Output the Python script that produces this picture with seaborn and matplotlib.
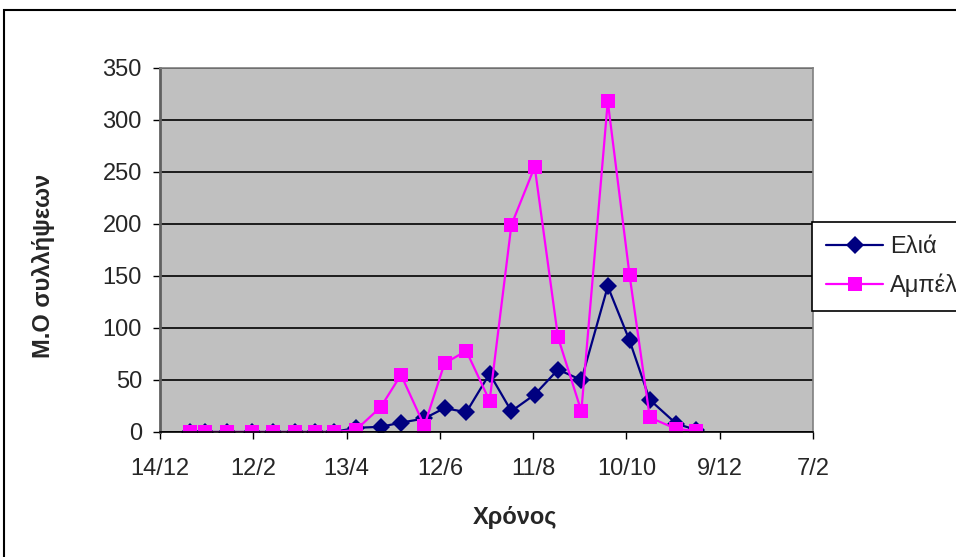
import matplotlib
matplotlib.use("Agg")
import matplotlib.pyplot as plt
import matplotlib.dates as mdates
from matplotlib.patches import Rectangle
from matplotlib.ticker import FuncFormatter, MultipleLocator
import seaborn as sns
import pandas as pd
import numpy as np

# ---- data ----
dates = ["2005-01-02", "2005-01-12", "2005-01-26", "2005-02-11", "2005-02-25",
         "2005-03-11", "2005-03-24", "2005-04-05", "2005-04-19", "2005-05-05",
         "2005-05-18", "2005-06-02", "2005-06-15", "2005-06-29", "2005-07-14",
         "2005-07-28", "2005-08-12", "2005-08-27", "2005-09-11", "2005-09-28",
         "2005-10-12", "2005-10-25", "2005-11-11", "2005-11-24"]
elia = [0, 0, 0, 0, 0, 0, 0, 0, 4, 5, 9, 13, 23, 19, 56, 20, 36, 60, 50, 140, 88, 31, 8, 2]
ampeli = [0, 0, 0, 0, 0, 0, 0, 0, 2, 24, 55, 6, 66, 78, 30, 199, 255, 91, 20, 318, 151, 14, 3, 1]
series_names = ["Ελιά", "Αμπέλι"]
x_start, x_end = "2004-12-14", "2006-02-07"

df = pd.DataFrame({
    "date": pd.to_datetime(dates * 2),
    "value": elia + ampeli,
    "series": [series_names[0]] * len(dates) + [series_names[1]] * len(dates),
})

sns.set_style("white")
plt.rcParams["font.family"] = ["Liberation Sans", "DejaVu Sans"]

fig = plt.figure(figsize=(9.56, 5.57), dpi=100)
ax = fig.add_axes([160 / 956, 1 - 432 / 557, (813 - 160) / 956, (432 - 68) / 557])
ax.set_facecolor("#C0C0C0")

sns.lineplot(data=df, x="date", y="value", hue="series", style="series",
             hue_order=series_names, style_order=series_names,
             palette={"Ελιά": "#000080", "Αμπέλι": "#FF00FF"},
             markers={"Ελιά": "D", "Αμπέλι": "s"}, dashes=False,
             markeredgewidth=0, linewidth=1.6, ax=ax, legend=True)
for line in ax.lines:
    if line.get_marker() == "s":
        line.set_markersize(10)
    else:
        line.set_markersize(9)

ax.set_ylim(0, 350)
ax.yaxis.set_major_locator(MultipleLocator(50))
ax.set_xlim(pd.Timestamp(x_start), pd.Timestamp(x_end))
start_num = mdates.date2num(pd.Timestamp(x_start))
ax.set_xticks([start_num + 60 * i for i in range(8)])
ax.xaxis.set_major_formatter(FuncFormatter(
    lambda v, p: f"{mdates.num2date(v).day}/{mdates.num2date(v).month}"))

ax.grid(axis="y", color="black", linewidth=1.2)
ax.grid(axis="x", visible=False)
ax.set_axisbelow(True)

for s in ["top", "right"]:
    ax.spines[s].set_color("#808080")
    ax.spines[s].set_linewidth(1.2)
ax.spines["left"].set_color("#606060")
ax.spines["left"].set_linewidth(2)
ax.spines["bottom"].set_color("black")
ax.spines["bottom"].set_linewidth(1.2)

ax.tick_params(axis="both", which="major", direction="out", length=5, width=1,
               color="black", labelsize=17, left=True, bottom=True)
ax.tick_params(axis="y", pad=8)
ax.tick_params(axis="x", pad=14)

ax.set_ylabel("Μ.Ο συλλήψεων", fontsize=17, fontweight="bold")
ax.set_xlabel("Χρόνος", fontsize=17, fontweight="bold")
ax.yaxis.set_label_coords((55 - 160) / 653, (432 - 266) / 364)
ax.xaxis.set_label_coords((515 - 160) / 653, -(506 - 432) / 364)

handles, labels = ax.get_legend_handles_labels()
ax.legend(handles, labels, loc="upper left",
          bbox_to_anchor=(812 / 956, 1 - 222 / 557), bbox_transform=fig.transFigure,
          fontsize=17, frameon=True, fancybox=False, edgecolor="black",
          framealpha=1, borderaxespad=0, handlelength=2.4, handletextpad=0.3,
          labelspacing=0.65, borderpad=0.6, title=None)
leg = ax.get_legend()
leg.get_frame().set_linewidth(1.2)

fig.patches.append(Rectangle((4 / 956, -0.5), 2, 1 - 10 / 557 + 0.5,
                             transform=fig.transFigure, fill=False,
                             edgecolor="black", linewidth=1.5))

fig.savefig("out.png", dpi=100)
